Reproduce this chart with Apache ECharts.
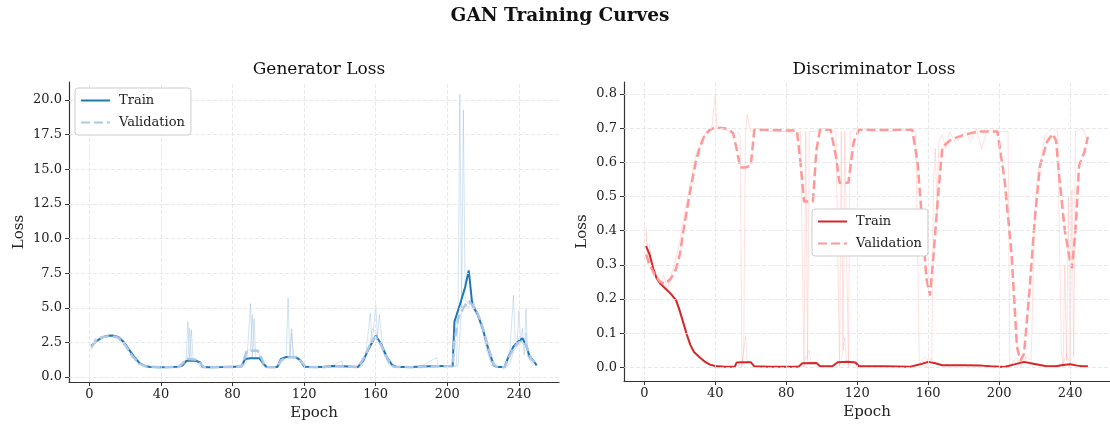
<!DOCTYPE html>
<html>
<head>
<meta charset="utf-8">
<script src="https://cdn.jsdelivr.net/npm/echarts@6/dist/echarts.min.js"></script>
<style>
  html, body { margin: 0; padding: 0; background: #fff; }
  #chart { width: 1110px; height: 428px; }
</style>
</head>
<body>
<div id="chart"></div>
<script>
// tick labels
const epochTicks = [0, 40, 80, 120, 160, 200, 240];
const genTicks = [0, 2.5, 5, 7.5, 10, 12.5, 15, 17.5, 20];
const discTicks = [0, 0.1, 0.2, 0.3, 0.4, 0.5, 0.6, 0.7, 0.8];

// generator loss, smoothed  [epoch, loss]
const genTrain = [[1,2.25],[4,2.6],[7,2.85],[10,2.98],[13,3.0],[16,2.9],[19,2.55],[22,2.0],[25,1.45],[28,1.0],[31,0.8],[34,0.72],[40,0.7],[46,0.72],[50,0.75],[52,0.85],[54,1.15],[57,1.2],[60,1.15],[62,1.05],[63,0.75],[66,0.7],[75,0.72],[80,0.75],[85,0.75],[87,1.3],[90,1.35],[95,1.35],[97,1.0],[99,0.72],[105,0.72],[107,1.3],[110,1.45],[115,1.45],[118,1.2],[120,0.75],[130,0.72],[136,0.8],[142,0.78],[150,0.72],[153,1.2],[156,2.0],[160,2.98],[163,2.4],[166,1.5],[169,0.9],[172,0.72],[180,0.72],[190,0.78],[200,0.8],[203,0.8],[204,4.0],[207,5.2],[210,6.5],[212,7.7],[214,5.2],[217,4.5],[220,3.4],[223,2.0],[226,0.85],[228,0.72],[232,0.72],[234,1.4],[237,2.2],[240,2.6],[242,2.8],[244,2.3],[246,1.5],[248,1.2],[250,0.85]];
const genVal = [[1,2.15],[4,2.7],[8,2.9],[12,2.95],[16,2.85],[20,2.3],[24,1.5],[28,0.95],[32,0.75],[40,0.7],[50,0.73],[53,1.1],[55,1.3],[60,1.25],[62,1.0],[64,0.7],[75,0.72],[85,0.74],[87,1.5],[88,1.9],[94,1.9],[96,1.4],[98,0.8],[100,0.7],[105,0.7],[107,1.2],[110,1.4],[116,1.45],[119,1.0],[121,0.72],[130,0.7],[137,0.78],[150,0.72],[154,1.5],[157,2.4],[160,2.9],[163,2.3],[167,1.2],[170,0.75],[180,0.7],[195,0.78],[203,0.78],[204,2.5],[206,4.2],[209,5.0],[212,5.5],[214,5.2],[217,4.6],[220,3.5],[223,2.1],[226,0.9],[228,0.72],[232,0.7],[234,1.3],[237,2.1],[240,2.5],[243,2.6],[245,2.0],[247,1.3],[250,0.9]];
// generator loss, raw
const genRawTrain = [[1,1.9],[3,2.8],[5,2.6],[8,2.9],[12,3.0],[16,2.9],[20,2.4],[24,1.6],[27,1.1],[30,0.8],[35,0.7],[42,0.7],[48,0.72],[52,0.75],[54,1.0],[55,4.0],[56,1.3],[57,3.4],[58,1.1],[60,1.1],[62,0.7],[70,0.7],[78,0.75],[82,0.72],[86,0.8],[88,1.2],[90,5.3],[91,1.4],[92,4.2],[93,1.3],[95,1.4],[97,0.8],[100,0.7],[106,0.8],[108,1.3],[110,1.5],[111,5.7],[112,1.4],[113,3.5],[114,1.3],[116,1.5],[119,0.8],[125,0.72],[135,0.78],[141,1.15],[142,0.75],[150,0.72],[154,1.2],[157,4.6],[158,2.4],[160,5.2],[161,2.9],[162,4.5],[164,2.0],[167,1.0],[171,0.7],[185,0.75],[194,1.4],[195,0.8],[203,0.8],[205,0.8],[206,4.2],[207,20.4],[208,5.0],[209,19.3],[210,5.5],[212,5.3],[214,5.6],[216,4.8],[219,3.8],[222,2.0],[225,0.8],[232,0.7],[235,2.0],[237,5.9],[238,2.3],[240,2.8],[241,2.6],[242,3.5],[243,1.6],[244,4.9],[245,1.4],[247,1.2],[250,0.8]];
const genRawVal = [[1,2.1],[3,2.5],[6,2.9],[10,3.0],[14,2.95],[18,2.6],[22,1.9],[26,1.2],[30,0.8],[36,0.7],[44,0.72],[50,0.7],[53,1.1],[55,1.3],[56,3.5],[57,1.2],[60,1.25],[63,0.8],[65,0.7],[72,0.72],[80,0.7],[85,0.9],[88,1.9],[89,1.8],[90,2.0],[91,4.5],[92,1.9],[94,1.9],[96,1.3],[98,0.75],[104,0.7],[107,1.2],[110,1.4],[112,1.5],[113,3.2],[114,1.4],[117,1.4],[120,0.75],[128,0.7],[138,0.75],[148,0.72],[152,0.7],[155,1.6],[157,2.5],[158,3.5],[160,3.2],[162,2.6],[165,1.5],[168,0.8],[175,0.7],[190,0.75],[200,0.78],[206,0.78],[207,3.0],[208,5.0],[210,5.2],[212,5.0],[213,5.6],[215,5.3],[218,4.2],[221,3.0],[224,1.2],[227,0.7],[233,0.7],[235,1.0],[237,1.8],[239,2.3],[240,4.8],[241,2.6],[243,2.3],[244,3.2],[245,1.6],[247,1.0],[250,0.8]];

// discriminator loss, smoothed
const discTrain = [[1,0.355],[3,0.33],[5,0.29],[7,0.26],[9,0.245],[12,0.23],[15,0.215],[18,0.195],[20,0.165],[22,0.13],[24,0.095],[26,0.065],[28,0.045],[31,0.03],[34,0.017],[37,0.008],[40,0.004],[45,0.002],[51,0.002],[52,0.014],[55,0.015],[60,0.015],[62,0.003],[70,0.002],[80,0.002],[87,0.002],[89,0.012],[97,0.013],[99,0.003],[106,0.003],[109,0.015],[115,0.016],[119,0.014],[121,0.003],[135,0.003],[150,0.002],[155,0.008],[160,0.016],[164,0.012],[168,0.006],[180,0.006],[190,0.005],[195,0.003],[203,0.001],[208,0.008],[214,0.016],[220,0.01],[226,0.004],[232,0.003],[236,0.007],[240,0.009],[244,0.005],[247,0.003],[250,0.003]];
const discVal = [[1,0.33],[3,0.3],[6,0.27],[9,0.25],[12,0.245],[15,0.26],[18,0.29],[20,0.33],[23,0.43],[26,0.52],[29,0.6],[31,0.64],[34,0.68],[37,0.695],[40,0.702],[45,0.7],[48,0.695],[50,0.685],[52,0.64],[54,0.585],[57,0.585],[60,0.59],[62,0.695],[70,0.695],[80,0.693],[86,0.693],[88,0.6],[90,0.485],[95,0.485],[97,0.636],[99,0.695],[105,0.695],[108,0.617],[110,0.54],[115,0.54],[118,0.66],[121,0.695],[130,0.695],[140,0.695],[151,0.695],[154,0.6],[157,0.4],[159,0.26],[161,0.21],[163,0.33],[166,0.53],[168,0.645],[173,0.667],[180,0.68],[188,0.69],[195,0.69],[199,0.69],[203,0.55],[207,0.33],[210,0.06],[212,0.02],[214,0.04],[217,0.22],[220,0.43],[223,0.59],[227,0.66],[230,0.683],[232,0.665],[234,0.55],[237,0.4],[240,0.31],[241,0.29],[243,0.4],[245,0.59],[248,0.63],[250,0.675]];
// discriminator loss, raw
const discRawTrain = [[1,0.41],[2,0.3],[3,0.36],[5,0.27],[7,0.26],[9,0.25],[11,0.23],[13,0.22],[15,0.21],[17,0.2],[19,0.17],[21,0.14],[23,0.11],[25,0.08],[27,0.05],[30,0.03],[34,0.015],[38,0.008],[42,0.003],[50,0.002],[52,0.004],[55,0.01],[57,0.09],[58,0.02],[60,0.015],[62,0.003],[80,0.002],[88,0.003],[90,0.015],[93,0.05],[94,0.01],[98,0.012],[100,0.002],[109,0.004],[111,0.015],[113,0.087],[114,0.015],[118,0.012],[121,0.002],[150,0.002],[155,0.01],[158,0.03],[160,0.01],[162,0.025],[165,0.008],[170,0.005],[190,0.005],[203,0.002],[207,0.01],[210,0.03],[212,0.005],[214,0.04],[216,0.01],[220,0.008],[230,0.002],[236,0.01],[238,0.04],[240,0.005],[242,0.02],[245,0.003],[250,0.003]];
const discRawVal = [[1,0.4],[2,0.31],[3,0.33],[5,0.28],[7,0.26],[9,0.24],[11,0.27],[13,0.23],[15,0.27],[17,0.3],[20,0.37],[23,0.46],[26,0.54],[29,0.62],[32,0.66],[35,0.69],[38,0.7],[40,0.8],[41,0.7],[44,0.7],[48,0.69],[50,0.68],[52,0.69],[54,0.68],[55,0.0],[56,0.05],[57,0.69],[58,0.74],[60,0.69],[63,0.7],[70,0.69],[80,0.69],[86,0.68],[88,0.69],[90,0.0],[91,0.69],[92,0.02],[93,0.69],[97,0.69],[100,0.7],[108,0.69],[110,0.0],[111,0.69],[112,0.05],[113,0.69],[115,0.0],[116,0.69],[120,0.7],[130,0.69],[140,0.69],[150,0.7],[153,0.69],[155,0.01],[157,0.02],[159,0.0],[160,0.03],[162,0.02],[163,0.55],[164,0.64],[165,0.45],[166,0.66],[168,0.68],[170,0.64],[172,0.69],[175,0.66],[178,0.67],[181,0.69],[184,0.66],[187,0.7],[190,0.64],[193,0.69],[196,0.7],[199,0.69],[203,0.69],[205,0.69],[206,0.0],[208,0.02],[212,0.0],[215,0.03],[218,0.02],[220,0.45],[222,0.58],[224,0.62],[226,0.68],[228,0.69],[230,0.7],[233,0.69],[235,0.05],[236,0.0],[237,0.3],[238,0.02],[239,0.5],[240,0.0],[241,0.52],[242,0.03],[243,0.69],[246,0.7],[248,0.69],[250,0.65]];

const FONT = "DejaVu Serif";
const chart = echarts.init(document.getElementById("chart"));

function xAxis(gridIndex) {
  return {
    type: "value", gridIndex, min: -11.45, max: 262.45,
    name: "Epoch", nameLocation: "middle", nameGap: 24,
    nameTextStyle: { fontFamily: FONT, fontSize: 15, color: "#222" },
    axisLine: { show: true, onZero: false, lineStyle: { color: "#333", width: 1.2 } },
    axisTick: { show: true, customValues: epochTicks, length: 4, lineStyle: { color: "#333" } },
    axisLabel: { customValues: epochTicks, margin: 6, fontFamily: FONT, fontSize: 13, color: "#222" },
    splitLine: { show: false }
  };
}

function yAxis(gridIndex, min, max, ticks, gap) {
  return {
    type: "value", gridIndex, min, max,
    name: "Loss", nameLocation: "middle", nameGap: gap,
    nameTextStyle: { fontFamily: FONT, fontSize: 15, color: "#222" },
    axisLine: { show: true, onZero: false, lineStyle: { color: "#333", width: 1.2 } },
    axisTick: { show: true, customValues: ticks, length: 4, lineStyle: { color: "#333" } },
    axisLabel: { customValues: ticks, margin: 7, fontFamily: FONT, fontSize: 13, color: "#222",
      formatter: v => v.toFixed(1) },
    splitLine: { show: false }
  };
}

// dashed grid lines, drawn through the axes
function gridLines(yTicks) {
  return {
    silent: true, symbol: "none", animation: false,
    label: { show: false },
    lineStyle: { color: "#e2e2e2", type: [4, 2], width: 0.8 },
    emphasis: { disabled: true },
    data: epochTicks.map(v => ({ xAxis: v })).concat(yTicks.map(v => ({ yAxis: v })))
  };
}

function line(name, data, idx, color, width, type, z) {
  return {
    type: "line", name, data, xAxisIndex: idx, yAxisIndex: idx,
    symbol: "none", showSymbol: false, silent: true, z,
    lineStyle: { color, width, type },
    itemStyle: { color }
  };
}

const legendBase = {
  orient: "vertical", itemWidth: 29, itemHeight: 10, itemGap: 9, z: 10,
  padding: [6, 6, 6, 5], borderColor: "#cccccc", borderWidth: 1, borderRadius: 3,
  backgroundColor: "#ffffff",
  itemStyle: { opacity: 0, borderWidth: 0 },
  textStyle: { fontFamily: FONT, fontSize: 13, color: "#222", padding: [0, 0, 0, 4] },
  formatter: n => n.slice(2),
  selectedMode: false
};

const gRawT = line("g rawT", genRawTrain, 0, "rgba(31,119,180,0.2)", 1, "solid", 1);
gRawT.markLine = gridLines(genTicks);
const dRawT = line("d rawT", discRawTrain, 1, "rgba(214,39,40,0.12)", 1, "solid", 1);
dRawT.markLine = gridLines(discTicks);

chart.setOption({
  animation: false,
  title: [
    { text: "GAN Training Curves", left: 555, textAlign: "center", top: 2,
      textStyle: { fontFamily: FONT, fontWeight: "bold", fontSize: 18.5, color: "#111" } },
    { text: "Generator Loss", left: 314, textAlign: "center", top: 56,
      textStyle: { fontFamily: FONT, fontWeight: "normal", fontSize: 17, color: "#111" } },
    { text: "Discriminator Loss", left: 869, textAlign: "center", top: 56,
      textStyle: { fontFamily: FONT, fontWeight: "normal", fontSize: 17, color: "#111" } }
  ],
  legend: [
    Object.assign({}, legendBase, { left: 75, top: 88, data: ["g Train", "g Validation"] }),
    Object.assign({}, legendBase, { left: 812, top: 209, data: ["d Train", "d Validation"] })
  ],
  grid: [
    { left: 69, top: 82, width: 490, height: 300 },
    { left: 624, top: 82, width: 492, height: 299 }
  ],
  xAxis: [xAxis(0), xAxis(1)],
  yAxis: [yAxis(0, -0.36, 21.3, genTicks, 42), yAxis(1, -0.04, 0.835, discTicks, 34)],
  series: [
    gRawT,
    line("g rawV", genRawVal, 0, "rgba(174,199,232,0.55)", 1, "solid", 1),
    line("g Train", genTrain, 0, "#1f77b4", 2, "solid", 3),
    line("g Validation", genVal, 0, "#aec7e8", 2.5, [9, 4], 4),
    dRawT,
    line("d rawV", discRawVal, 1, "rgba(255,152,150,0.3)", 1, "solid", 1),
    line("d Train", discTrain, 1, "#d62728", 2, "solid", 3),
    line("d Validation", discVal, 1, "#ff9896", 2.5, [9, 4], 4)
  ]
});
</script>
</body>
</html>
